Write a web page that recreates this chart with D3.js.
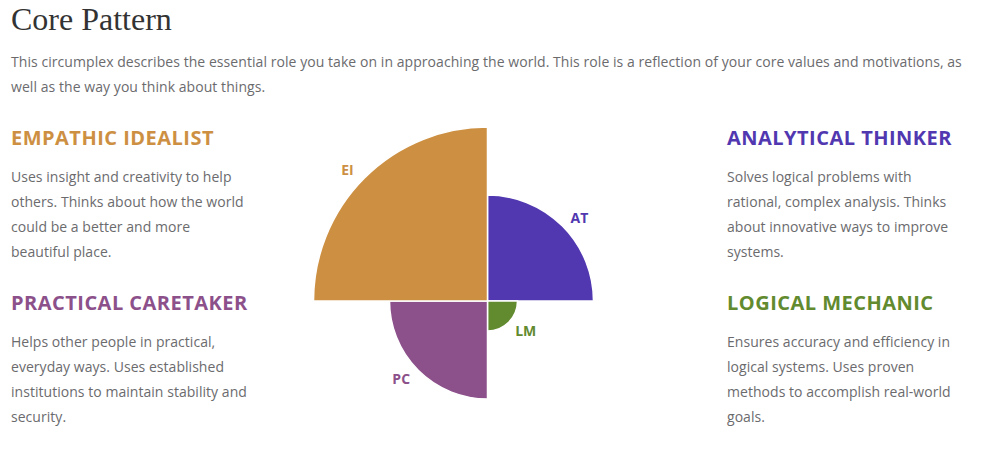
<!DOCTYPE html>
<html>
<head>
<meta charset="utf-8">
<script src="https://cdn.jsdelivr.net/npm/d3@7"></script>
<style>
  html, body { margin: 0; padding: 0; background: #fff; }
  svg { display: block; }
</style>
</head>
<body>
<svg id="chart" width="995" height="456"></svg>
<script>
// ---- data ----
const categories = ["AT", "LM", "PC", "EI"];
const values = [53, 15, 49, 87];
const colors = ["#5138b0", "#628a2f", "#8c508a", "#cd9043"];

const titleText = "Core Pattern";
const introLines = [
  "This circumplex describes the essential role you take on in approaching the world. This role is a reflection of your core values and motivations, as",
  "well as the way you think about things."
];
const panelTitles = ["EMPATHIC IDEALIST", "PRACTICAL CARETAKER", "ANALYTICAL THINKER", "LOGICAL MECHANIC"];
const panelColors = ["#cd9043", "#8c508a", "#5138b0", "#628a2f"];
const panelLines = [
  ["Uses insight and creativity to help", "others. Thinks about how the world", "could be a better and more", "beautiful place."],
  ["Helps other people in practical,", "everyday ways. Uses established", "institutions to maintain stability and", "security."],
  ["Solves logical problems with", "rational, complex analysis. Thinks", "about innovative ways to improve", "systems."],
  ["Ensures accuracy and efficiency in", "logical systems. Uses proven", "methods to accomplish real-world", "goals."]
];

// ---- drawing ----
const svg = d3.select("#chart");
const bodyFont = "'Open Sans', sans-serif";
const textColor = "#6b6b6e";

svg.append("text")
  .attr("x", 11).attr("y", 30)
  .attr("font-family", "'Liberation Serif', 'DejaVu Serif', serif")
  .attr("font-size", 32)
  .attr("fill", "#333")
  .text(titleText);

svg.append("g").selectAll("text").data(introLines).join("text")
  .attr("x", 11).attr("y", (d, i) => 67 + i * 25)
  .attr("font-family", bodyFont).attr("font-size", 14)
  .attr("letter-spacing", 0.06)
  .attr("fill", textColor)
  .text(d => d);

const panelPos = [[11, 145], [11, 310], [727, 145], [727, 310]];
panelTitles.forEach((t, i) => {
  const [x, y] = panelPos[i];
  svg.append("text")
    .attr("x", x).attr("y", y)
    .attr("font-family", bodyFont).attr("font-weight", 700)
    .attr("font-size", 20).attr("letter-spacing", 0.48)
    .attr("fill", panelColors[i])
    .text(t);
  svg.append("g").selectAll("text").data(panelLines[i]).join("text")
    .attr("x", x).attr("y", (d, j) => y + 37 + j * 25)
    .attr("font-family", bodyFont).attr("font-size", 14)
    .attr("letter-spacing", 0.04)
    .attr("fill", textColor)
    .text(d => d);
});

// polar area chart
const cx = 487.5, cy = 301;
const r = d3.scaleLinear().domain([0, d3.max(values)]).range([0, 174]);
const angle = d3.scaleBand().domain(categories).range([0, 2 * Math.PI]);

const g = svg.append("g").attr("transform", `translate(${cx},${cy})`);
const arc = d3.arc()
  .innerRadius(0)
  .outerRadius(d => r(d.v))
  .startAngle(d => angle(d.c))
  .endAngle(d => angle(d.c) + angle.bandwidth());

const data = categories.map((c, i) => ({ c, v: values[i], col: colors[i] }));

g.selectAll("path").data(data).join("path")
  .attr("d", arc)
  .attr("fill", d => d.col)
  .attr("stroke", "#fff")
  .attr("stroke-width", 1.5);

const padX = 17, padY = 8.5;
const mid = d => angle(d.c) + angle.bandwidth() / 2;
g.selectAll("text.lbl").data(data).join("text")
  .attr("class", "lbl")
  .attr("x", d => Math.sin(mid(d)) * r(d.v) + Math.sign(Math.sin(mid(d))) * padX)
  .attr("y", d => -Math.cos(mid(d)) * r(d.v) - Math.sign(Math.cos(mid(d))) * padY)
  .attr("text-anchor", "middle")
  .attr("dominant-baseline", "central")
  .attr("font-family", bodyFont).attr("font-weight", 700)
  .attr("font-size", 14)
  .attr("fill", d => d.col)
  .text(d => d.c);
</script>
</body>
</html>
